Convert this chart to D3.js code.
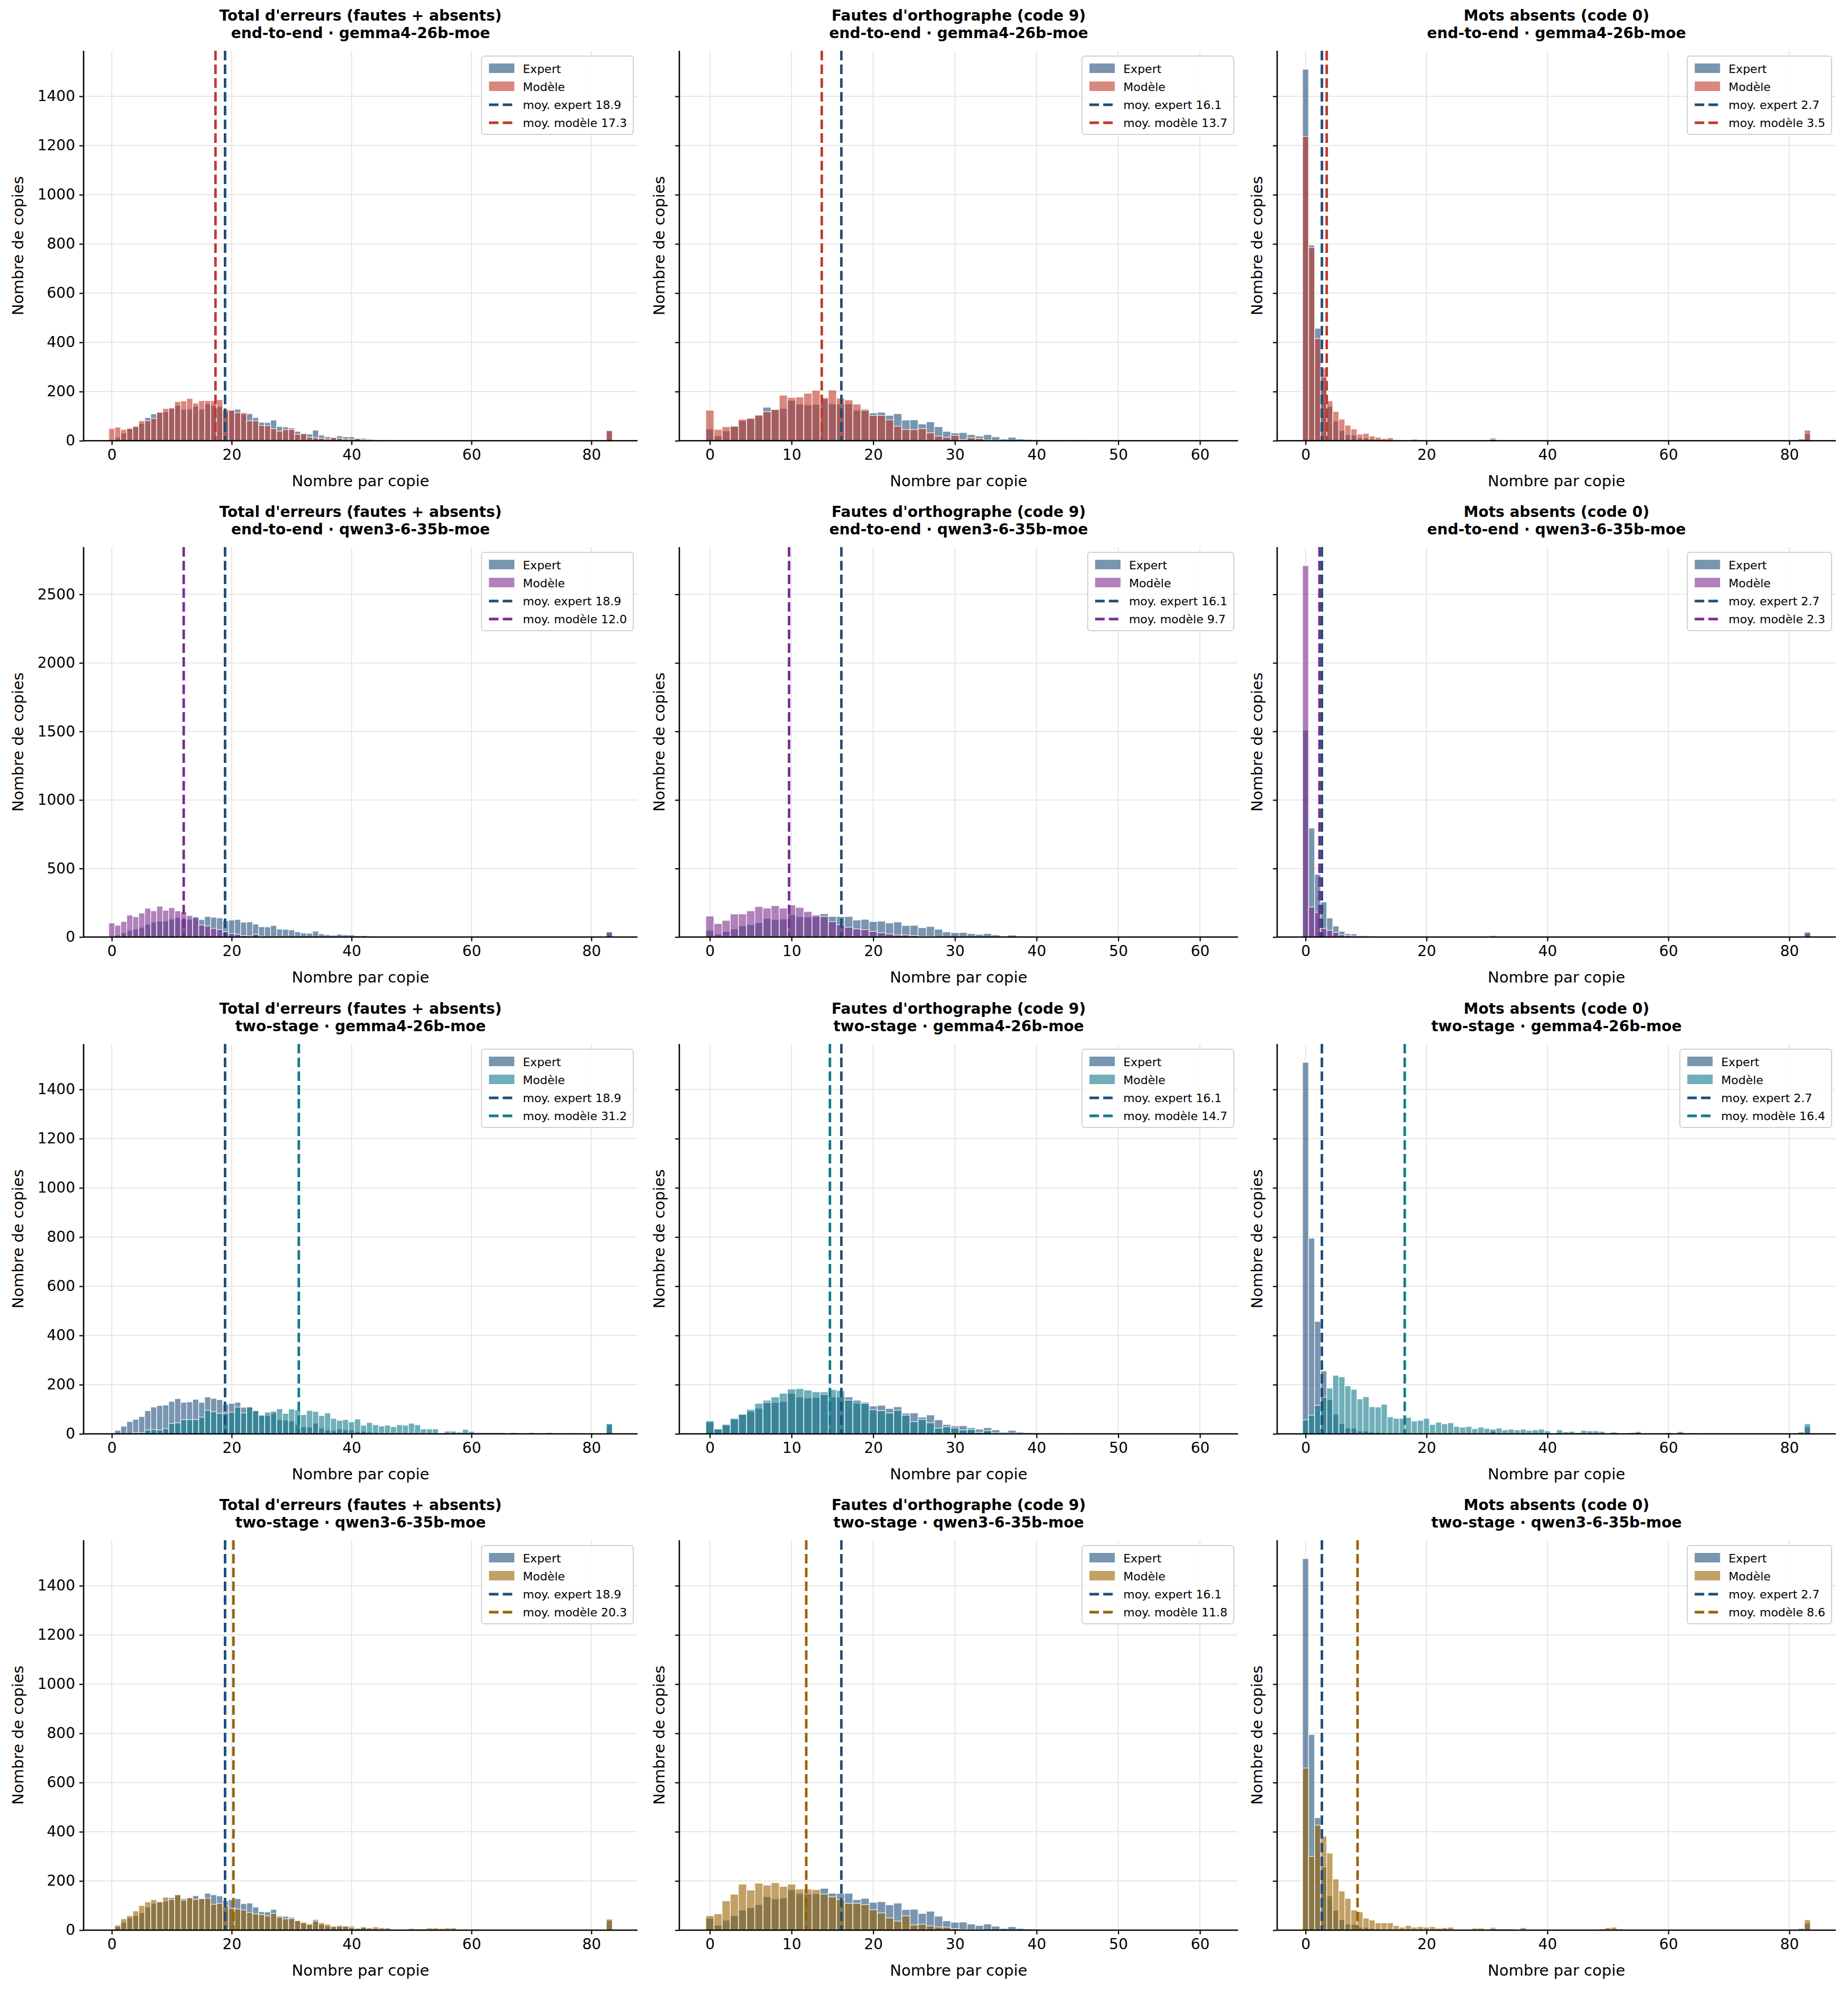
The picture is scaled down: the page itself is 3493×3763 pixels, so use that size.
<!DOCTYPE html>
<html>
<head>
<meta charset="utf-8">
<script src="https://cdn.jsdelivr.net/npm/d3@7/dist/d3.min.js"></script>
<style>
  body { margin: 0; background: #fff; }
  text { font-family: "DejaVu Sans", sans-serif; }
</style>
</head>
<body>
<svg id="chart"></svg>
<script>
// ---- data (counts per integer bin, starting at bin 0) ----
const columnTitles = ["Total d'erreurs (fautes + absents)", "Fautes d'orthographe (code 9)", "Mots absents (code 0)"];
const rowTitles = ["end-to-end · gemma4-26b-moe", "end-to-end · qwen3-6-35b-moe", "two-stage · gemma4-26b-moe", "two-stage · qwen3-6-35b-moe"];
const modelColors = ["#c0392b", "#7b2d8e", "#117a8b", "#9a6200"];
const expertColor = "#1f4e79";

const expertTotal = [3,14,31,50,59,70,94,109,115,117,132,143,128,130,140,128,150,144,139,120,124,128,108,110,94,75,74,84,58,56,52,38,29,27,43,23,16,13,20,16,16,9,10,7,5,3,1,1,1,0,0,0,0,0,0,0,0,1];
const expertOrtho = [48,20,40,59,81,91,104,136,127,131,164,149,146,148,170,150,149,150,124,129,113,116,103,110,84,85,68,77,57,38,32,33,25,19,25,16,7,14,7,5,4,1,3,3,1,3];
const expertAbsent = [1510,795,457,256,139,80,42,24,23,11,11,7,5,3,4,2,1,1,1];

const modelTotal = [
  [50,55,46,50,58,81,81,91,116,131,133,159,162,172,153,163,163,163,167,128,124,114,114,81,81,62,61,49,39,45,46,26,29,14,12,10,7,13,10,7,6,9,5,5,3,2,1,1,2,2],
  [103,86,113,160,148,175,210,191,225,195,214,191,184,157,147,88,80,63,55,38,25,20,10,8,20,6,3,3,3,2,1,1],
  [0,0,0,0,5,5,16,18,16,22,42,45,58,58,58,68,96,90,83,84,88,109,85,109,94,76,88,92,102,83,101,97,78,95,91,74,85,63,55,58,49,60,35,46,37,32,35,29,37,35,43,37,20,20,20,4,11,11,7,18,10,5,5,5,5,5,2,5,2,2,5,0,2,5,1,1,0,3],
  [0,20,46,59,78,100,115,124,115,134,125,144,122,132,125,128,130,105,109,98,89,86,82,72,66,63,58,68,53,46,47,39,32,23,37,30,24,16,16,16,10,7,13,9,13,10,9,3,3,0,7,5,5,9,9,7,9,9,0,3,3,4,1,1,1,1,1,1]
];
const modelOrtho = [
  [124,46,57,59,87,91,104,118,127,185,176,178,193,205,175,206,173,166,149,124,103,103,85,59,46,45,49,32,19,14,22,5,12,9,3,2,1,1,0,0,4,1],
  [153,98,121,168,168,191,222,211,229,211,233,216,186,160,150,113,90,72,59,54,41,31,23,15,15,10,5,5,2,1],
  [53,20,37,63,79,99,124,128,150,165,182,184,178,171,161,180,176,137,137,124,98,94,85,96,76,50,59,45,23,29,24,16,18,6,13,4,3,3,2,2],
  [59,66,119,146,187,163,191,183,193,178,187,167,167,165,147,135,125,109,109,104,83,70,50,37,58,21,24,17,13,12,6,3,2,2]
];
const modelAbsent = [
  [1237,785,415,295,162,119,88,63,48,27,30,19,14,9,12,4,2,1,6],
  [2710,219,180,63,49,34,16,10,8,4,3,2],
  [57,76,116,149,186,238,232,195,181,142,151,110,109,120,69,63,63,67,52,55,63,38,47,41,45,30,27,30,21,27,22,19,23,16,19,16,19,14,16,19,12,3,16,8,10,5,14,12,12,10,2,7,3,2,5,9,2,2,2,2,5,2,9,2,4,0,0,4],
  [659,300,427,381,313,208,159,129,82,74,49,41,30,30,30,19,12,19,12,14,12,14,8,10,12,3,2,2,8,8,2,7,5,5,5,2,10,2,4,1,1,1,4,2,1,2,1,1,3,5,10,12,5]
];
// isolated far bins: [bin, count]
const expertExtra = [[[83, 39]], [], [[31, 11], [82, 7], [83, 28]]];
const modelExtra = [
  [[[83, 42]], [], [[31, 6], [32, 3], [83, 43]]],
  [[[83, 36]], [], [[31, 3], [83, 36]]],
  [[[83, 41]], [], [[83, 41]]],
  [[[83, 45]], [], [[83, 42]]]
];
const expertMeans = [18.9, 16.1, 2.7];
const modelMeans = [[17.3, 13.7, 3.5], [12.0, 9.7, 2.3], [31.2, 14.7, 16.4], [20.3, 11.8, 8.6]];
const rowYMax = [1585, 2845, 1585, 1585];
const rowYTicks = [d3.range(0, 1401, 200), d3.range(0, 2501, 500), d3.range(0, 1401, 200), d3.range(0, 1401, 200)];
const colXDomain = [[-4.7, 87.7], [-3.74, 64.66], [-4.7, 87.7]];
const colXTicks = [[0, 20, 40, 60, 80], [0, 10, 20, 30, 40, 50, 60], [0, 20, 40, 60, 80]];

// ---- layout ----
const W = 3493, H = 3763;
const colX = [158, 1284, 2414], plotW = [1047, 1056, 1056];
const rowY = [96, 1034, 1973, 2911], plotH = 737;

const svg = d3.select("#chart").attr("width", W).attr("height", H);
svg.append("rect").attr("width", W).attr("height", H).attr("fill", "#fff");

function bins(arr, extra) {
  const out = arr.map((v, i) => ({ bin: i, v }));
  extra.forEach(([b, v]) => out.push({ bin: b, v }));
  return out.filter(d => d.v > 0);
}

const seriesByCol = [
  [expertTotal, modelTotal],
  [expertOrtho, modelOrtho],
  [expertAbsent, modelAbsent]
];

for (let r = 0; r < 4; r++) {
  for (let c = 0; c < 3; c++) {
    const g = svg.append("g").attr("transform", `translate(${colX[c]},${rowY[r]})`);
    const w = plotW[c];
    const x = d3.scaleLinear().domain(colXDomain[c]).range([0, w]);
    const y = d3.scaleLinear().domain([0, rowYMax[r]]).range([plotH, 0]);

    // grid
    g.append("g").selectAll("line").data(colXTicks[c]).join("line")
      .attr("x1", d => x(d)).attr("x2", d => x(d)).attr("y1", 0).attr("y2", plotH)
      .attr("stroke", "#e6e6e6").attr("stroke-width", 2);
    g.append("g").selectAll("line").data(rowYTicks[r]).join("line")
      .attr("x1", 0).attr("x2", w).attr("y1", d => y(d)).attr("y2", d => y(d))
      .attr("stroke", "#e6e6e6").attr("stroke-width", 2);

    const mColor = modelColors[r];
    const [expArr, modArrs] = seriesByCol[c];
    const layers = [
      { data: bins(expArr, expertExtra[c]), color: expertColor },
      { data: bins(modArrs[r], modelExtra[r][c]), color: mColor }
    ];
    layers.forEach(L => {
      g.append("g").selectAll("rect").data(L.data).join("rect")
        .attr("x", d => x(d.bin - 0.5)).attr("width", d => x(d.bin + 0.5) - x(d.bin - 0.5))
        .attr("y", d => y(d.v)).attr("height", d => plotH - y(d.v))
        .attr("fill", L.color).attr("fill-opacity", 0.6)
        .attr("stroke", "#fff").attr("stroke-width", 1.4).attr("stroke-opacity", 0.8);
    });

    // mean lines
    [[expertMeans[c], expertColor], [modelMeans[r][c], mColor]].forEach(([m, col]) => {
      g.append("line").attr("x1", x(m)).attr("x2", x(m)).attr("y1", 0).attr("y2", plotH)
        .attr("stroke", col).attr("stroke-width", 4.8).attr("stroke-dasharray", "18,8");
    });

    // axes
    const ax = g.append("g").attr("transform", `translate(0,${plotH})`)
      .call(d3.axisBottom(x).tickValues(colXTicks[c]).tickSize(8).tickPadding(8));
    const ay = g.append("g")
      .call(d3.axisLeft(y).tickValues(rowYTicks[r]).tickSize(8).tickPadding(8)
        .tickFormat(c === 0 ? d3.format("d") : () => ""));
    [ax, ay].forEach(a => {
      a.select(".domain").attr("stroke", "#000").attr("stroke-width", 2.6);
      a.selectAll(".tick line").attr("stroke", "#000").attr("stroke-width", 2.2);
      a.selectAll("text").attr("font-size", 28).attr("fill", "#000")
        .style("font-family", '"DejaVu Sans", sans-serif');
    });
    ay.select(".domain").attr("d", `M0,${plotH}V0`);
    ax.select(".domain").attr("d", `M0,0H${w}`);

    // labels
    g.append("text").attr("x", w / 2).attr("y", plotH + 86).attr("text-anchor", "middle")
      .attr("font-size", 29).text("Nombre par copie");
    g.append("text").attr("transform", `translate(${c === 0 ? -114 : -28},${plotH / 2}) rotate(-90)`)
      .attr("text-anchor", "middle").attr("font-size", 29).text("Nombre de copies");
    g.append("text").attr("x", w / 2).attr("y", -57).attr("text-anchor", "middle")
      .attr("font-size", 28).attr("font-weight", "bold").text(columnTitles[c]);
    g.append("text").attr("x", w / 2).attr("y", -24).attr("text-anchor", "middle")
      .attr("font-size", 28).attr("font-weight", "bold").text(rowTitles[r]);

    // legend
    const entries = [
      { label: "Expert", color: expertColor, type: "patch" },
      { label: "Modèle", color: mColor, type: "patch" },
      { label: `moy. expert ${expertMeans[c].toFixed(1)}`, color: expertColor, type: "line" },
      { label: `moy. modèle ${modelMeans[r][c].toFixed(1)}`, color: mColor, type: "line" }
    ];
    const lg = g.append("g");
    const box = lg.append("rect").attr("fill", "#fff").attr("fill-opacity", 0.85)
      .attr("stroke", "#d0d0d0").attr("stroke-width", 2).attr("rx", 5);
    const rowH = 34;
    let maxW = 0;
    entries.forEach((e, i) => {
      const yy = 24 + i * rowH;
      if (e.type === "patch") {
        lg.append("rect").attr("x", 14).attr("y", yy - 10).attr("width", 48).attr("height", 18)
          .attr("fill", e.color).attr("fill-opacity", 0.6);
      } else {
        lg.append("line").attr("x1", 14).attr("x2", 62).attr("y1", yy).attr("y2", yy)
          .attr("stroke", e.color).attr("stroke-width", 4.8).attr("stroke-dasharray", "18,8");
      }
      const t = lg.append("text").attr("x", 78).attr("y", yy + 8).attr("font-size", 22).text(e.label);
      maxW = Math.max(maxW, t.node().getComputedTextLength());
    });
    const bw = 78 + maxW + 12, bh = 24 + 3 * rowH + 22;
    box.attr("width", bw).attr("height", bh);
    lg.attr("transform", `translate(${w - bw - 8},10)`);
  }
}
</script>
</body>
</html>
